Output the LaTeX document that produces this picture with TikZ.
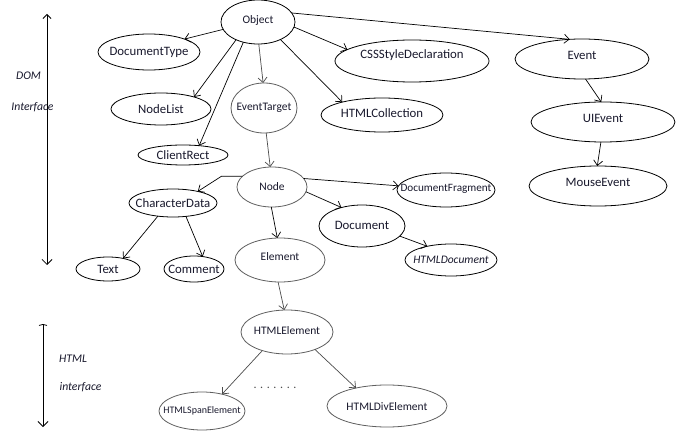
\documentclass[tikz,border=0pt]{standalone}
\usepackage{fontspec}
\setmainfont{Carlito}
\usetikzlibrary{shapes.geometric,arrows.meta}
\definecolor{textc}{RGB}{25,25,45}
\definecolor{edgegray}{RGB}{75,75,75}
\definecolor{elgray}{RGB}{95,95,95}
\newcommand\lb[2][0pt]{\makebox[0pt]{\raisebox{#1}[\height][\depth]{#2}}}
\begin{document}
\begin{tikzpicture}[x=1pt,y=-1pt,
  el/.style={ellipse, draw, line width=0.8pt, inner sep=0pt, outer sep=0pt, text=textc},
  gel/.style={el, draw=elgray},
  fa/.style={font=\fontsize{12.8}{14}\selectfont},
  fb/.style={font=\fontsize{11.5}{13}\selectfont},
  fc/.style={font=\fontsize{11.2}{13}\selectfont},
  fd/.style={font=\fontsize{10}{12}\selectfont},
  lab/.style={font=\fontsize{11.7}{13}\selectfont\itshape, text=textc, inner sep=0pt},
  con/.style={line width=0.7pt, -{Straight Barb[length=5pt,width=9pt]}},
  gcon/.style={con, draw=edgegray},
  side/.style={line width=0.8pt, {Straight Barb[length=4pt,width=8pt]}-{Straight Barb[length=5pt,width=10pt]}},
  sideh/.style={line width=0.8pt, {Straight Barb[length=1pt,width=8pt]}-{Straight Barb[length=5pt,width=10pt]}}
]
\useasboundingbox (0,0) rectangle (681,441);
\fill[white] (0,0) rectangle (681,441);

% nodes
\node[el,fb,minimum width=74,minimum height=44] (obj) at (258,22) {\lb[1.5pt]{Object}};
\node[el,fa,minimum width=102,minimum height=36] (doctype) at (149,52) {\lb{DocumentType}};
\node[el,fa,minimum width=100,minimum height=32] (nodelist) at (161,109) {\lb{NodeList}};
\node[el,fa,minimum width=90,minimum height=20] (clientrect) at (183,155) {\lb{ClientRect}};
\node[gel,fb,minimum width=66,minimum height=50] (evtarget) at (264,108) {\lb{EventTarget}};
\node[gel,fb,minimum width=70,minimum height=40] (node) at (272,187) {\lb{Node}};
\node[el,fa,minimum width=88,minimum height=28] (chardata) at (173,203) {\lb{CharacterData}};
\node[el,fa,minimum width=154,minimum height=42] (css) at (412,61) {\lb[6pt]{CSSStyleDeclaration}};
\node[el,fa,minimum width=134,minimum height=40] (event) at (582,59) {\lb[4pt]{Event}};
\node[el,fa,minimum width=144,minimum height=40] (uievent) at (603,122) {\lb[4pt]{UIEvent}};
\node[el,fa,minimum width=138,minimum height=40] (mouse) at (598,186) {\lb[4pt]{MouseEvent}};
\node[el,fa,minimum width=122,minimum height=34] (htmlcoll) at (382,115) {\lb[2pt]{HTMLCollection}};
\node[el,fc,minimum width=98,minimum height=34] (docfrag) at (446,190) {\lb[1pt]{DocumentFragment}};
\node[el,fa,minimum width=86,minimum height=42] (document) at (362,226) {\lb[1pt]{Document}};
\node[el,fb,minimum width=92,minimum height=32] (htmldoc) at (451,260) {\lb{\itshape HTMLDocument}};
\node[gel,fb,minimum width=90,minimum height=44] (element) at (280,260) {\lb[3pt]{Element}};
\node[gel,fb,minimum width=92,minimum height=44] (htmlel) at (287,332) {\lb[1.5pt]{HTMLElement}};
\node[gel,fd,minimum width=86,minimum height=38] (span) at (202,411) {\lb{HTMLSpanElement}};
\node[gel,fb,minimum width=120,minimum height=42] (div) at (387,406) {\lb[-1pt]{HTMLDivElement}};
\node[el,fa,minimum width=64,minimum height=24] (text) at (108,269) {\lb{Text}};
\node[el,fa,minimum width=60,minimum height=26] (comment) at (194,269) {\lb{Comment}};
\node[font=\fontsize{12}{13}\selectfont, text=edgegray, inner sep=0pt] (dots) at (275,388) {. . . . . . .};

% side labels
\node[lab] (dom) at (28.5,76) {DOM};
\node[lab] (intf) at (32.5,107) {Interface};
\node[lab] (html) at (73,359) {HTML};
\node[lab] (intf2) at (80.5,387) {interface};
\coordinate (domtop) at (47,14);
\coordinate (dombot) at (47,265);
\coordinate (htmltop) at (43,324);
\coordinate (htmlbot) at (43,427);
\draw[side] (domtop) -- (dombot);
\draw[sideh] (htmltop) -- (htmlbot);

% connectors
\draw[con] (obj.192) -- (doctype.20);
\draw[con] (obj.219) -- (nodelist.20);
\draw[con] (obj.234) -- (clientrect.30);
\draw[gcon] (obj.272) -- (evtarget.92);
\draw[con] (obj.-8) -- (css.170);
\draw[con] (obj.-38) -- (htmlcoll.162);
\draw[con] (obj.15) -- (event.122);
\draw[gcon] (evtarget.-85) -- (node.95);
\draw[con] (node.160) -- ++(-21,0) -- (chardata.25);
\draw[con] (node.15) -- (docfrag.175);
\draw[con] (node.-8) -- (document.138);
\draw[con] (node.-92) -- (element.97);
\draw[con] (chardata.221) -- (text.35);
\draw[con] (chardata.-46) -- (comment.55);
\draw[con] (document.-15) -- (htmldoc.150);
\draw[gcon] (element.-95) -- (htmlel.97);
\draw[gcon] (htmlel.-143) -- (span.40);
\draw[gcon] (htmlel.-32) -- (div.150);
\draw[con] (event.-80) -- (uievent.95);
\draw[con] (uievent.-96) -- (mouse.92);
\end{tikzpicture}
\end{document}
